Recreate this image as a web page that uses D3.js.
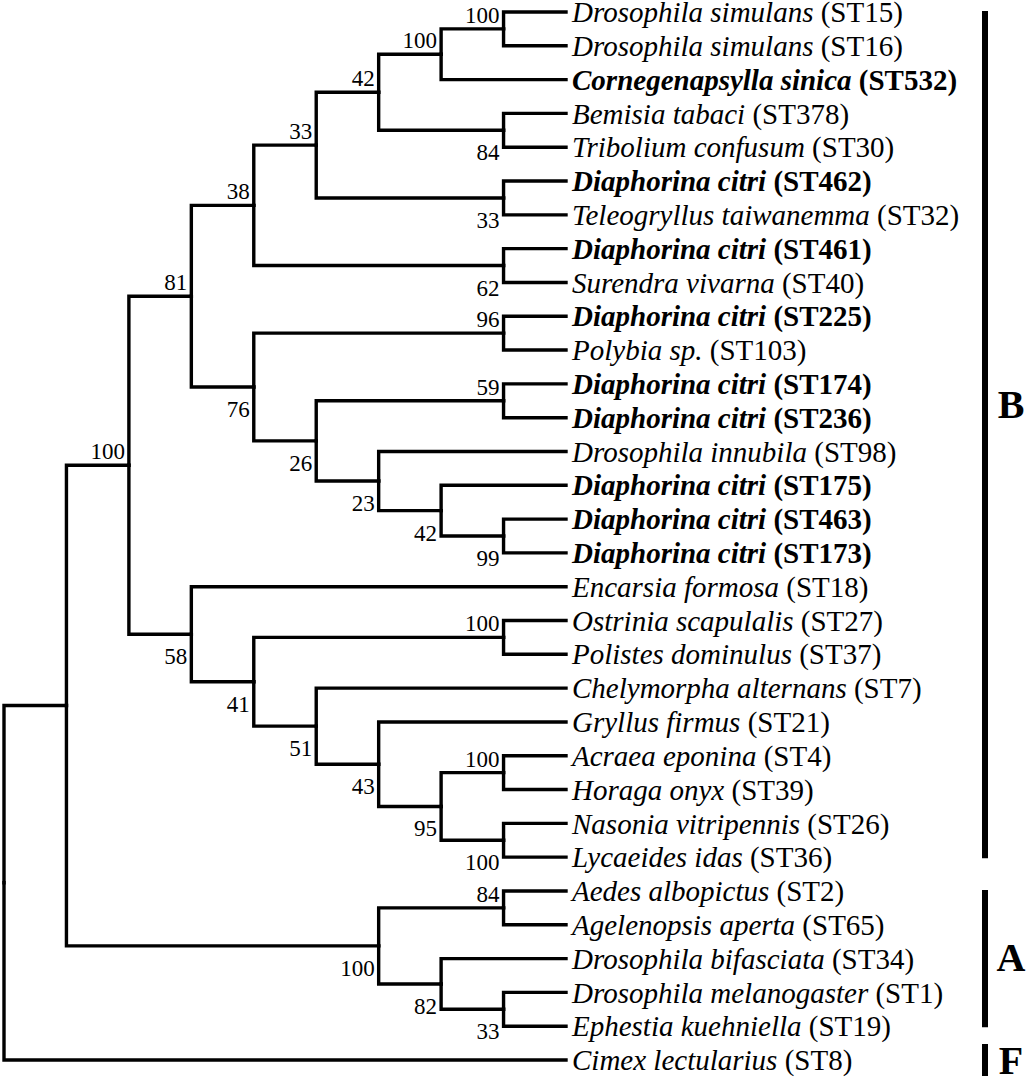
<!DOCTYPE html>
<html>
<head>
<meta charset="utf-8">
<script src="https://cdn.jsdelivr.net/npm/d3@7/dist/d3.min.js"></script>
<style>
  html, body { margin: 0; padding: 0; background: #fff; }
  svg { display: block; }
  text { font-family: "Liberation Serif", "Times New Roman", Times, serif; fill: #000; white-space: pre; }
</style>
</head>
<body>
<div id="chart"></div>
<script>
// ---------------- DATA ----------------
const leafNames = [
  "Drosophila simulans", "Drosophila simulans", "Cornegenapsylla sinica", "Bemisia tabaci",
  "Tribolium confusum", "Diaphorina citri", "Teleogryllus taiwanemma", "Diaphorina citri",
  "Surendra vivarna", "Diaphorina citri", "Polybia sp.", "Diaphorina citri",
  "Diaphorina citri", "Drosophila innubila", "Diaphorina citri", "Diaphorina citri",
  "Diaphorina citri", "Encarsia formosa", "Ostrinia scapulalis", "Polistes dominulus",
  "Chelymorpha alternans", "Gryllus firmus", "Acraea eponina", "Horaga onyx",
  "Nasonia vitripennis", "Lycaeides idas", "Aedes albopictus", "Agelenopsis aperta",
  "Drosophila bifasciata", "Drosophila melanogaster", "Ephestia kuehniella", "Cimex lectularius"
];
const leafST = [
  "ST15", "ST16", "ST532", "ST378", "ST30", "ST462", "ST32", "ST461",
  "ST40", "ST225", "ST103", "ST174", "ST236", "ST98", "ST175", "ST463",
  "ST173", "ST18", "ST27", "ST37", "ST7", "ST21", "ST4", "ST39",
  "ST26", "ST36", "ST2", "ST65", "ST34", "ST1", "ST19", "ST8"
];
// isolates of this study (printed in bold)
const leafFocal = [
  0, 0, 1, 0, 0, 1, 0, 1, 0, 1, 0, 1, 1, 0, 1, 1,
  1, 0, 0, 0, 0, 0, 0, 0, 0, 0, 0, 0, 0, 0, 0, 0
];
const leafParent = [
  "n100b", "n100b", "n100a", "n84a", "n84a", "n33b", "n33b", "n62",
  "n62", "n96", "n96", "n59", "n59", "n23", "n42b", "n99",
  "n99", "n58", "n100c", "n100c", "n51", "n43", "n100d", "n100d",
  "n100e", "n100e", "n84b", "n84b", "n82", "n33c", "n33c", "root"
];
// internal nodes with bootstrap support
const nodeIds = [
  "root", "nTop", "nB", "n81", "n38", "n33a", "n42a", "n100a", "n100b", "n84a",
  "n33b", "n62", "n76", "n96", "n26", "n59", "n23", "n42b", "n99",
  "n58", "n41", "n100c", "n51", "n43", "n95", "n100d", "n100e",
  "nA", "n84b", "n82", "n33c"
];
const nodeParent = [
  null, "root", "nTop", "nB", "n81", "n38", "n33a", "n42a", "n100a", "n42a",
  "n33a", "n38", "n81", "n76", "n76", "n26", "n26", "n23", "n42b",
  "nB", "n58", "n41", "n41", "n51", "n43", "n95", "n95",
  "nTop", "nA", "nA", "n82"
];
const nodeSupport = [
  null, null, 100, 81, 38, 33, 42, 100, 100, 84,
  33, 62, 76, 96, 26, 59, 23, 42, 99,
  58, 41, 100, 51, 43, 95, 100, 100,
  100, 84, 82, 33
];
// clades: label, first leaf, last leaf
const cladeNames = ["B", "A", "F"];
const cladeFirst = [0, 26, 31];
const cladeLast = [25, 30, 31];

// ---------------- LAYOUT ----------------
const W = 1028, H = 1083;
const svg = d3.select("#chart").append("svg").attr("width", W).attr("height", H);
svg.append("rect").attr("width", W).attr("height", H).attr("fill", "#fff");

const rows = [];
nodeIds.forEach((id, i) => rows.push({ id, parent: nodeParent[i], support: nodeSupport[i], leaf: -1 }));
leafNames.forEach((n, i) => rows.push({ id: "leaf" + i, parent: leafParent[i], support: null, leaf: i }));

const root = d3.stratify().id(d => d.id).parentId(d => d.parent)(rows);

const xScale = d3.scaleLinear().domain([0, root.height]).range([566, 4]);
const yScale = d3.scaleLinear().domain([0, leafNames.length - 1]).range([12, 1060]);

root.eachAfter(n => {
  n.px = xScale(n.height);
  if (n.data.leaf >= 0) n.py = yScale(n.data.leaf);
  else {
    const ys = n.children.map(c => c.py);
    n.py = (d3.min(ys) + d3.max(ys)) / 2;
  }
});

const g = svg.append("g");

// branches (elbow links)
g.selectAll("path.link")
  .data(root.links())
  .join("path")
  .attr("class", "link")
  .attr("fill", "none")
  .attr("stroke", "#000")
  .attr("stroke-width", 3.4)
  .attr("stroke-linecap", "square")
  .attr("stroke-linejoin", "miter")
  .attr("d", l => `M${l.source.px},${l.source.py}V${l.target.py}H${l.target.px}`);

// bootstrap labels
const internals = root.descendants().filter(n => n.children && n.data.support != null);
g.selectAll("text.boot")
  .data(internals)
  .join("text")
  .attr("class", "boot")
  .attr("font-size", 23)
  .attr("text-anchor", "end")
  .attr("x", n => n.px - 4)
  .attr("y", n => {
    const upper = n.parent.children.every(s => s === n || s.py > n.py);
    return upper ? n.py - 6 : n.py + 30;
  })
  .text(n => n.data.support);

// leaf labels
const leaves = root.leaves();
const lt = g.selectAll("text.leaf")
  .data(leaves)
  .join("text")
  .attr("class", "leaf")
  .attr("font-size", 29)
  .attr("x", 572)
  .attr("y", n => n.py)
  .attr("dy", "0.35em")
  .attr("font-weight", n => leafFocal[n.data.leaf] ? "bold" : "normal");
lt.append("tspan").attr("font-style", "italic").text(n => leafNames[n.data.leaf]);
lt.append("tspan").text(n => " (" + leafST[n.data.leaf] + ")");

// clade bars and letters
const cladeShift = { B: -31, A: -2, F: 0 };
cladeNames.forEach((c, i) => {
  const single = cladeFirst[i] === cladeLast[i];
  const pad = single ? 16 : 1;
  const y0 = yScale(cladeFirst[i]) - pad;
  const y1 = yScale(cladeLast[i]) + pad;
  svg.append("line")
    .attr("x1", 985).attr("x2", 985)
    .attr("y1", y0).attr("y2", y1)
    .attr("stroke", "#000").attr("stroke-width", 6);
  svg.append("text")
    .attr("x", 1011)
    .attr("y", (y0 + y1) / 2 + cladeShift[c] + 14)
    .attr("text-anchor", "middle")
    .attr("font-size", 40)
    .attr("font-weight", "bold")
    .text(c);
});
</script>
</body>
</html>
